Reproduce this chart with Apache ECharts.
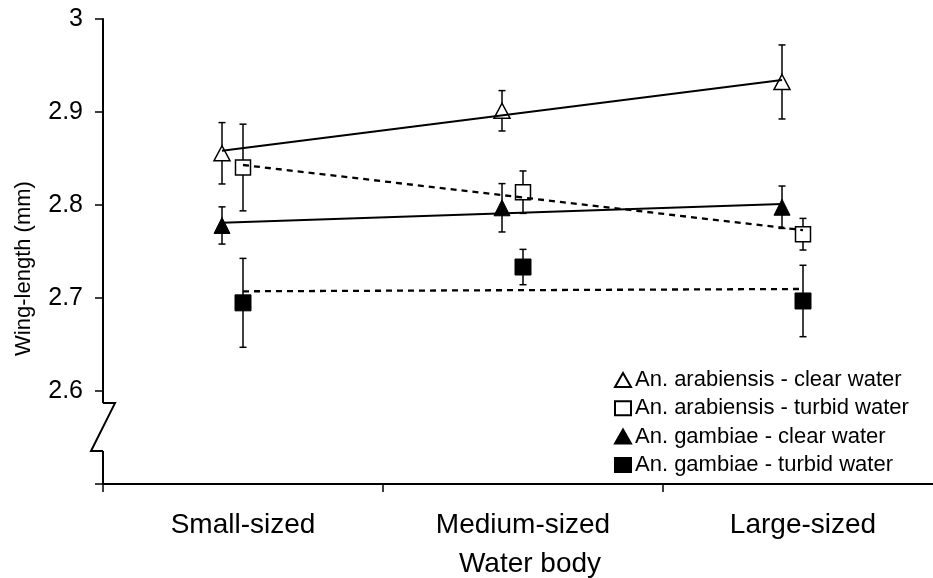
<!DOCTYPE html>
<html>
<head>
<meta charset="utf-8">
<script src="https://cdn.jsdelivr.net/npm/echarts@6/dist/echarts.min.js"></script>
<style>
html,body{margin:0;padding:0;background:#fff;}
#c{width:933px;height:578px;}
</style>
</head>
<body>
<div id="c"></div>
<script>
// ---- data ----
const categories = ['Small-sized', 'Medium-sized', 'Large-sized'];
const seriesNames = [
  'An. arabiensis - clear water',
  'An. arabiensis - turbid water',
  'An. gambiae - clear water',
  'An. gambiae - turbid water'
];
const arabClear = [2.8556, 2.9013, 2.9323];
const arabClearErr = [0.033, 0.0217, 0.0398];
const arabTurbid = [2.8403, 2.8138, 2.7686];
const arabTurbidErr = [0.0466, 0.0228, 0.017];
const gambClear = [2.778, 2.797, 2.7976];
const gambClearErr = [0.020, 0.026, 0.0228];
const gambTurbid = [2.6948, 2.7333, 2.6968];
const gambTurbidErr = [0.0478, 0.019, 0.0384];
// trend line end values (Small-sized, Large-sized)
const arabClearTrend = [2.8584, 2.9344];
const arabTurbidTrend = [2.843, 2.773];
const gambClearTrend = [2.781, 2.801];
const gambTurbidTrend = [2.7072, 2.7097];
const yTickValues = [2.5, 2.6, 2.7, 2.8, 2.9, 3];
const yLabelValues = [2.6, 2.7, 2.8, 2.9, 3];
const xTickValues = [-0.5, 0.5, 1.5, 2.5];
const xLabelValues = [0, 1, 2];
const breakTop = 2.587;
const breakBottom = 2.5355;

// ---- helpers ----
const triOffset = -0.075, sqOffset = 0;
const FONT = 'Liberation Sans, Arial, sans-serif';
function pts(vals, off) { return vals.map((v, i) => [i + off, v]); }
function errs(vals, e, off) { return vals.map((v, i) => [i + off, v - e[i], v + e[i]]); }
function trend(t, off) { return [[0 + off, t[0]], [categories.length - 1 + off, t[1]]]; }

const allErr = []
  .concat(errs(arabClear, arabClearErr, triOffset))
  .concat(errs(arabTurbid, arabTurbidErr, sqOffset))
  .concat(errs(gambClear, gambClearErr, triOffset))
  .concat(errs(gambTurbid, gambTurbidErr, sqOffset));

const chart = echarts.init(document.getElementById('c'), null, {renderer: 'canvas'});
const openStyle = {color: '#fff', borderColor: '#000', borderWidth: 1.5, opacity: 1};
const fillStyle = {color: '#000', borderColor: '#000', borderWidth: 1, opacity: 1};

const option = {
  backgroundColor: '#fff',
  animation: false,
  textStyle: {fontFamily: FONT, color: '#000'},
  grid: {left: 103, top: 19, bottom: 94, right: -10, containLabel: false, outerBoundsMode: 'none'},
  legend: {
    data: seriesNames,
    orient: 'vertical',
    left: 609, top: 364,
    itemWidth: 16, itemHeight: 14, itemGap: 6.3,
    textStyle: {fontSize: 22, lineHeight: 22, color: '#000', fontFamily: FONT, padding: [0, 0, 0, -1]},
    selectedMode: false
  },
  xAxis: {
    type: 'value', min: -0.5, max: 2.5,
    splitLine: {show: false},
    axisLine: {show: true, onZero: false, lineStyle: {color: '#000', width: 2}},
    axisTick: {show: true, customValues: xTickValues, length: 8, lineStyle: {color: '#000', width: 1.5}},
    axisLabel: {customValues: xLabelValues, formatter: v => categories[Math.round(v)] || '',
      fontSize: 28, color: '#000', fontFamily: FONT, margin: 27},
    name: 'Water body', nameLocation: 'middle', nameGap: 66,
    nameTextStyle: {fontSize: 28, color: '#000', fontFamily: FONT, padding: [0, 0, 0, 14]}
  },
  yAxis: {
    type: 'value', min: 2.5, max: 3,
    splitLine: {show: false},
    axisLine: {show: true, onZero: false, lineStyle: {color: '#000', width: 2}},
    axisTick: {show: true, customValues: yTickValues, length: 8, lineStyle: {color: '#000', width: 1.5}},
    axisLabel: {customValues: yLabelValues, fontSize: 25, color: '#000', fontFamily: FONT, margin: 20},
    name: 'Wing-length (mm)', nameLocation: 'middle', nameGap: 68,
    nameTextStyle: {fontSize: 22, color: '#000', fontFamily: FONT, padding: [0, 34, 0, 0]}
  },
  series: [
    {
      type: 'custom', name: 'errors', z: 1, silent: true,
      data: allErr,
      renderItem: function (params, api) {
        const x = api.value(0), lo = api.value(1), hi = api.value(2);
        const a = api.coord([x, hi]), b = api.coord([x, lo]);
        const cap = 3.5;
        const st = {stroke: '#000', lineWidth: 1.5};
        return {type: 'group', children: [
          {type: 'line', shape: {x1: a[0], y1: a[1], x2: b[0], y2: b[1]}, style: st},
          {type: 'line', shape: {x1: a[0] - cap, y1: a[1], x2: a[0] + cap, y2: a[1]}, style: st},
          {type: 'line', shape: {x1: b[0] - cap, y1: b[1], x2: b[0] + cap, y2: b[1]}, style: st}
        ]};
      }
    },
    {name: seriesNames[0], type: 'scatter', z: 2, symbol: 'triangle', symbolSize: [16, 15],
      itemStyle: openStyle, data: pts(arabClear, triOffset)},
    {name: seriesNames[1], type: 'scatter', z: 2, symbol: 'rect', symbolSize: 15,
      itemStyle: openStyle, data: pts(arabTurbid, sqOffset)},
    {name: seriesNames[2], type: 'scatter', z: 2, symbol: 'triangle', symbolSize: [16, 16],
      itemStyle: fillStyle, data: pts(gambClear, triOffset)},
    {name: seriesNames[3], type: 'scatter', z: 2, symbol: 'rect', symbolSize: 16,
      itemStyle: fillStyle, data: pts(gambTurbid, sqOffset)},
    {type: 'line', z: 3, silent: true, showSymbol: false, symbol: 'none',
      lineStyle: {color: '#000', width: 2, type: 'solid'}, data: trend(arabClearTrend, triOffset)},
    {type: 'line', z: 3, silent: true, showSymbol: false, symbol: 'none',
      lineStyle: {color: '#000', width: 2.3, type: [6, 5]}, data: trend(arabTurbidTrend, sqOffset)},
    {type: 'line', z: 3, silent: true, showSymbol: false, symbol: 'none',
      lineStyle: {color: '#000', width: 2, type: 'solid'}, data: trend(gambClearTrend, triOffset)},
    {type: 'line', z: 3, silent: true, showSymbol: false, symbol: 'none',
      lineStyle: {color: '#000', width: 2.3, type: [6, 5]}, data: trend(gambTurbidTrend, sqOffset)}
  ]
};
chart.setOption(option);

// axis break zigzag
const ax = chart.convertToPixel({xAxisIndex: 0}, -0.5);
const yT = chart.convertToPixel({yAxisIndex: 0}, breakTop);
const yB = chart.convertToPixel({yAxisIndex: 0}, breakBottom);
chart.setOption({
  graphic: [
    {type: 'rect', z: 100, shape: {x: ax - 3, y: yT, width: 6, height: yB - yT}, style: {fill: '#fff'}},
    {type: 'polyline', z: 101, shape: {points: [[ax, yT], [ax + 12, yT], [ax - 12, yB], [ax, yB]]},
      style: {stroke: '#000', lineWidth: 2, fill: null}}
  ]
});
</script>
</body>
</html>
